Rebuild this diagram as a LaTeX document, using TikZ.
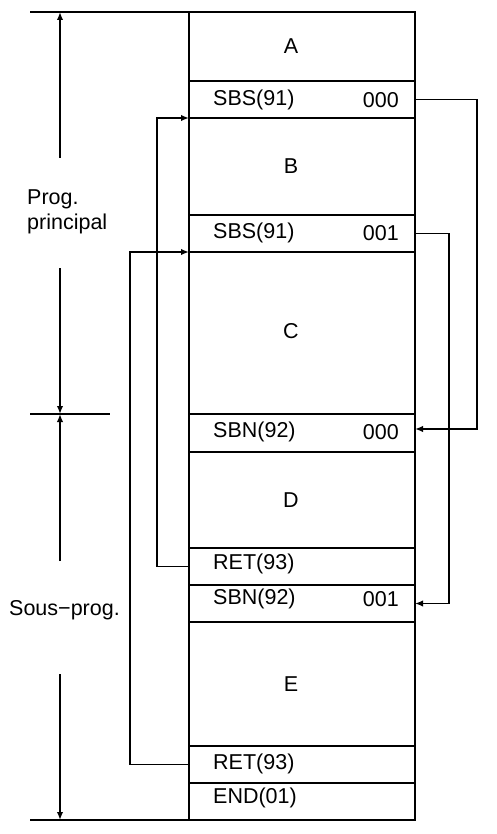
\documentclass[tikz,border=0pt]{standalone}
\usepackage{fontspec}
\setmainfont{Liberation Sans}
\usetikzlibrary{arrows.meta}
\begin{document}
\begin{tikzpicture}[x=1pt,y=-1pt,
  every node/.style={font=\fontsize{21.5}{25}\selectfont},
  row/.style={draw, line width=2pt, minimum width=226pt, inner sep=0pt, outer sep=0pt},
  lbl/.style={anchor=west, inner sep=0pt},
  val/.style={anchor=east, inner sep=0pt},
  conn/.style={line width=1.8pt, -{Latex[length=8pt,width=6.5pt]}},
  plain/.style={line width=1.8pt},
  dim/.style={line width=1.8pt, -{Latex[length=8pt,width=6.5pt]}}]
\useasboundingbox (0,0) rectangle (496,834);
% rows
\node[row, minimum height=69pt] (A) at (302,46.5) {};
\node[row, minimum height=37pt] (sbs0) at (302,99.5) {};
\node[row, minimum height=97pt] (B) at (302,166.5) {};
\node[row, minimum height=37pt] (sbs1) at (302,233.5) {};
\node[row, minimum height=162pt] (C) at (302,333) {};
\node[row, minimum height=38pt] (sbn0) at (302,433) {};
\node[row, minimum height=96pt] (D) at (302,500) {};
\node[row, minimum height=37pt] (ret1) at (302,566.5) {};
\node[row, minimum height=37pt] (sbn1) at (302,603.5) {};
\node[row, minimum height=124pt] (E) at (302,684) {};
\node[row, minimum height=37pt] (ret2) at (302,764.5) {};
\node[row, minimum height=37pt] (endr) at (302,801.5) {};
% letters
\node (tA) at (291,46.5) {A};
\node (tB) at (291,166) {B};
\node (tC) at (291,331) {C};
\node (tD) at (291,500) {D};
\node (tE) at (291,684) {E};
% labels
\node[lbl] (l1) at (213,100) {SBS(91)};
\node[val] (v1) at (399,100) {000};
\node[lbl] (l2) at (213,233) {SBS(91)};
\node[val] (v2) at (399,233) {001};
\node[lbl] (l3) at (213,432) {SBN(92)};
\node[val] (v3) at (399,432) {000};
\node[lbl] (l4) at (213,564) {RET(93)};
\node[lbl] (l5) at (213,599) {SBN(92)};
\node[val] (v5) at (399,599) {001};
\node[lbl] (l6) at (213,764) {RET(93)};
\node[lbl] (l7) at (213,798) {END(01)};
% connectors
\draw[conn] (sbs0.east) -- ++(62,0) |- ([yshift=4pt]sbn0.east);
\draw[conn] (sbs1.east) -- ++(34,0) |- ([yshift=0pt]sbn1.east);
\draw[conn] (ret1.west) -- ++(-32,0) |- (B.north west);
\draw[conn] (ret2.west) -- ++(-59,0) |- (C.north west);
% dimension lines
\coordinate (t0) at (30,12);
\coordinate (m0) at (30,414);
\coordinate (m1) at (110,414);
\coordinate (b0) at (30,820);
\draw[plain] (t0) -- (A.north west);
\draw[plain] (m0) -- (m1);
\draw[plain] (b0) -- (endr.south west);
\coordinate (d1) at (60,158);
\coordinate (d1e) at (60,12);
\coordinate (d2) at (60,268);
\coordinate (d2e) at (60,414);
\coordinate (d3) at (60,561);
\coordinate (d4) at (60,674);
\coordinate (d4e) at (60,820);
\draw[dim] (d1) -- (d1e);
\draw[dim] (d2) -- (d2e);
\draw[dim] (d3) -- (d2e);
\draw[dim] (d4) -- (d4e);
\node[anchor=west, align=left, inner sep=0pt, font=\fontsize{21.5}{25}\selectfont] (pp) at (27,212) {Prog.\\principal};
\node[anchor=west, inner sep=0pt] (sp) at (9,610) {Sous−prog.};
\end{tikzpicture}
\end{document}
